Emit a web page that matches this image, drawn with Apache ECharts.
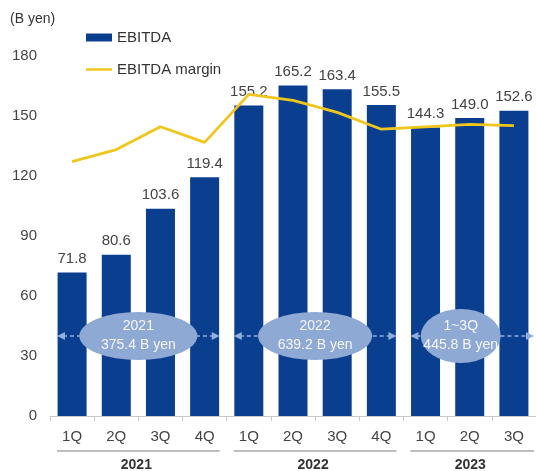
<!DOCTYPE html>
<html>
<head>
<meta charset="utf-8">
<script src="https://cdn.jsdelivr.net/npm/echarts@6/dist/echarts.min.js"></script>
<style>
  html, body { margin: 0; padding: 0; background: #fff; }
  #main { width: 536px; height: 471px; }
</style>
</head>
<body>
<div id="main"></div>
<script>
var quarters = ['1Q', '2Q', '3Q', '4Q', '1Q', '2Q', '3Q', '4Q', '1Q', '2Q', '3Q'];
var ebitda = [71.8, 80.6, 103.6, 119.4, 155.2, 165.2, 163.4, 155.5, 144.3, 149.0, 152.6];
var margin = [21.2, 22.2, 24.1, 22.8, 26.8, 26.3, 25.3, 23.9, 24.1, 24.3, 24.2];
var years = ['2021', '2022', '2023'];
var yearStart = [0, 4, 8];
var yearEnd = [3, 7, 10];
var totalTop = ['2021', '2022', '1~3Q'];
var totalBottom = ['375.4 B yen', '639.2 B yen', '445.8 B yen'];

var font = 'Liberation Sans, Arial, sans-serif';
var chart = echarts.init(document.getElementById('main'));

chart.setOption({
    animation: false,
    textStyle: { fontFamily: font },
    grid: { left: 50, top: 56, width: 488, bottom: 55 },
    legend: {
        left: 81,
        top: 25,
        orient: 'vertical',
        itemGap: 17,
        itemWidth: 26,
        itemHeight: 8,
        textStyle: { fontSize: 15, color: '#333', fontFamily: font },
        data: [
            { name: 'EBITDA', icon: 'rect' },
            { name: 'EBITDA margin', icon: 'path://M0,0 L26,0 L26,2.5 L0,2.5 Z', itemStyle: { color: '#f0c61c' } }
        ]
    },
    xAxis: {
        type: 'category',
        data: quarters,
        axisLine: { lineStyle: { color: '#c8c8c8', width: 1 } },
        axisTick: { show: true, length: 5, lineStyle: { color: '#c8c8c8' } },
        axisLabel: { fontSize: 15, color: '#444', margin: 13 }
    },
    yAxis: [{
        type: 'value',
        min: 0,
        max: 180,
        interval: 30,
        splitLine: { show: false },
        axisLine: { show: false },
        axisLabel: { fontSize: 15, color: '#444', margin: 13 }
    }, {
        type: 'value',
        min: 0,
        max: 30,
        show: false
    }],
    series: [{
        name: 'EBITDA',
        type: 'bar',
        data: ebitda,
        barWidth: 29,
        itemStyle: { color: '#0a3f8f' },
        label: {
            show: true,
            position: 'top',
            distance: 6,
            fontSize: 15,
            color: '#444',
            formatter: function (p) { return p.value.toFixed(1); }
        },
        z: 2
    }, {
        name: 'EBITDA margin',
        type: 'line',
        yAxisIndex: 1,
        data: margin,
        symbol: 'none',
        lineStyle: { color: '#f0c61c', width: 2.8 },
        itemStyle: { color: '#f0c61c' },
        z: 3
    }]
});

// annotations: year totals, group underlines and year names
var yMid = chart.convertToPixel({ yAxisIndex: 0 }, 40);
var halfStep = (chart.convertToPixel({ xAxisIndex: 0 }, 1) - chart.convertToPixel({ xAxisIndex: 0 }, 0)) / 2;
var elements = [];
var ellipseW = [118, 114, 80];
var ellipseH = [48, 48, 54];
for (var i = 0; i < years.length; i++) {
    var x0 = chart.convertToPixel({ xAxisIndex: 0 }, yearStart[i]) - halfStep + 7;
    var x1 = chart.convertToPixel({ xAxisIndex: 0 }, yearEnd[i]) + halfStep - 7;
    var cx = (x0 + x1) / 2;
    if (i === 2) { cx = chart.convertToPixel({ xAxisIndex: 0 }, 9) - 9; x1 = 534; }
    var arrowColor = '#8fb0dc';
    elements.push({
        type: 'line', z: 10,
        shape: { x1: x0 + 6, y1: yMid, x2: x1 - 6, y2: yMid },
        style: { stroke: arrowColor, lineWidth: 1.5, lineDash: [4, 3] }
    });
    elements.push({
        type: 'polygon', z: 10,
        shape: { points: [[x0, yMid], [x0 + 8, yMid - 4], [x0 + 8, yMid + 4]] },
        style: { fill: arrowColor }
    });
    elements.push({
        type: 'polygon', z: 10,
        shape: { points: [[x1, yMid], [x1 - 8, yMid - 4], [x1 - 8, yMid + 4]] },
        style: { fill: arrowColor }
    });
    elements.push({
        type: 'circle', z: 11,
        x: cx, y: yMid,
        scaleX: ellipseW[i] / ellipseH[i],
        shape: { cx: 0, cy: 0, r: ellipseH[i] / 2 },
        style: { fill: '#8eaad4' }
    });
    elements.push({
        type: 'text', z: 12,
        x: cx, y: yMid,
        style: {
            text: totalTop[i] + '\n' + totalBottom[i],
            fill: '#f4f6fb',
            font: '14px ' + font,
            lineHeight: 19,
            align: 'center',
            verticalAlign: 'middle'
        }
    });
    elements.push({
        type: 'line', z: 10,
        shape: { x1: x0, y1: 451, x2: x1, y2: 451 },
        style: { stroke: '#bdbdbd', lineWidth: 2 }
    });
    elements.push({
        type: 'text', z: 10,
        x: (x0 + x1) / 2 - 2, y: 465,
        style: {
            text: years[i],
            fill: '#333',
            font: 'bold 14px ' + font,
            align: 'center',
            verticalAlign: 'middle'
        }
    });
}
elements.push({
    type: 'text', left: 10, top: 12,
    style: { text: '(B yen)', fill: '#333', font: '14px ' + font }
});
chart.setOption({ graphic: elements });
</script>
</body>
</html>
